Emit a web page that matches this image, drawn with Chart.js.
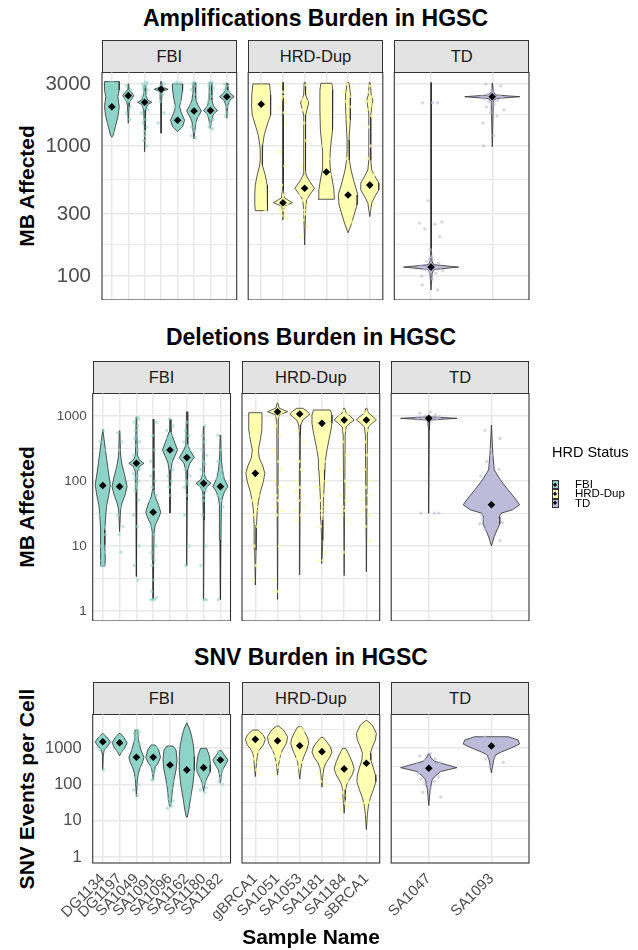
<!DOCTYPE html>
<html><head><meta charset="utf-8">
<script src="https://cdn.jsdelivr.net/npm/chart.js@4.4.1/dist/chart.umd.min.js"></script>
<style>
html,body{margin:0;padding:0;background:#fff;}
body{width:638px;height:950px;position:relative;overflow:hidden;font-family:"Liberation Sans",Arial,sans-serif;}
canvas{position:absolute;left:0;}
.t{position:absolute;white-space:nowrap;line-height:1;}
.title{font-weight:bold;font-size:23px;color:#000;transform:translate(-50%,-50%);}
.ytitle{font-weight:bold;font-size:21px;color:#000;transform:translate(-50%,-50%) rotate(-90deg);}
.strip{position:absolute;box-sizing:border-box;border:1px solid #333;background:#E3E3E3;font-size:16.5px;color:#1a1a1a;display:flex;align-items:center;justify-content:center;}
.key{position:absolute;box-sizing:border-box;border:1px solid #333;width:6.5px;height:9.4px;}
.key i{position:absolute;left:50%;top:50%;width:3.2px;height:3.2px;background:#000;transform:translate(-50%,-50%) rotate(45deg);}
</style></head><body>
<script>
// ---------------- DATA ----------------
const groups = ['FBI', 'HRD-Dup', 'TD'];
const fbiSamples = ['DG1134','DG1197','SA1049','SA1091','SA1096','SA1162','SA1180','SA1182'];
const hrdSamples = ['gBRCA1','SA1051','SA1053','SA1181','SA1184','sBRCA1'];
const tdSamples = ['SA1047','SA1093'];

// y axis ticks (major labelled, minor grid only) and limits
const ampTicks = [100, 300, 1000, 3000];
const ampMinor = [173, 548, 1732];
const ampRange = [65.3, 3707];
const delTicks = [1, 10, 100, 1000];
const delMinor = [3.16, 31.6, 316];
const delRange = [0.70, 2260];
const snvTicks = [1, 10, 100, 1000];
const snvMinor = [3.16, 31.6, 316, 3162];
const snvRange = [0.684, 8630];

// violin outlines: [value, relative density 0..1]
const ampFbiViolins = [
 [[3126,1.0],[2698,1.0],[2393,0.82],[2005,1.0],[1679,0.82],[1406,0.48],[1216,0.2],[1167,0]],
 [[3000,0.04],[2698,0.14],[2541,0.54],[2438,0.75],[2328,0.54],[2193,0.2],[2005,0.11],[1496,0]],
 [[2944,0.07],[2466,0.14],[2259,0.41],[2168,0.95],[2084,0.41],[1892,0.14],[1327,0.07],[904,0]],
 [[3126,0.07],[2844,0.14],[2729,0.95],[2624,0.14],[2259,0.07],[1254,0]],
 [[3000,0.68],[2698,0.68],[2259,0.48],[2005,0.27],[1786,0.54],[1578,0.95],[1406,0.68],[1288,0]],
 [[3069,0.14],[2466,0.2],[2259,0.27],[2065,0.54],[1858,1.0],[1671,0.54],[1531,0.27],[1132,0]],
 [[3069,0.14],[2259,0.2],[2032,0.41],[1871,0.95],[1762,0.41],[1585,0.2],[1368,0]],
 [[3034,0.07],[2698,0.14],[2559,0.41],[2393,1.0],[2259,0.41],[2065,0.14],[1633,0]]
];
const ampHrdViolins = [
 [[3000,0.85],[2466,0.97],[2104,1.0],[1730,0.92],[1452,0.61],[1216,0.31],[1019,0.15],[931,0.1],[780,0.1],[714,0.15],[598,0.41],[501,0.61],[420,0.66],[352,0.66],[318,0.61]],
 [[3069,0.05],[459,0.05],[398,0.15],[366,0.97],[345,0.15],[310,0.05],[270,0]],
 [[3069,0.05],[2466,0.1],[2259,0.31],[2143,0.41],[1995,0.31],[1730,0.1],[931,0.08],[653,0.1],[598,0.15],[547,0.41],[473,1.0],[420,0.51],[385,0.2],[322,0.1],[173,0]],
 [[3034,0.56],[2698,0.66],[1892,0.66],[1327,0.61],[1112,0.51],[931,0.41],[780,0.36],[653,0.41],[547,0.61],[459,0.77],[389,0.82]],
 [[3069,0.1],[2466,0.26],[2065,0.26],[1585,0.2],[1112,0.1],[931,0.1],[780,0.15],[653,0.31],[547,0.56],[420,1.0],[352,0.92],[294,0.61],[247,0.31],[215,0]],
 [[3069,0.05],[2466,0.15],[2259,0.31],[1995,0.2],[1730,0.1],[780,0.1],[653,0.2],[588,0.51],[519,0.92],[459,0.92],[406,0.51],[365,0.2],[322,0.1],[286,0]]
];
const ampTdViolins = [
 [[3069,0.01],[158,0.01],[128,0.04],[122,0.11],[117,1.0],[112,0.11],[105,0.04],[78,0]],
 [[3034,0.01],[2600,0.04],[2466,0.15],[2393,1.0],[2317,0.15],[2218,0.04],[988,0]]
];
const ampFbiMeans = [2005, 2438, 2168, 2729, 1578, 1858, 1871, 2393];
const ampHrdMeans = [2094, 366, 473, 631, 420, 500];
const ampTdMeans = [117, 2393];

const ampFbiPoints = [
 [3100,3050,3000,2950,2900,2800,2700,2600,2500,2300,2100,1900,1700,1500,1300],
 [2900,2700,2600,2500,2450,2400,2300,2200,2000,1800,1600],
 [3100,3050,3000,2950,2900,2850,2800,2700,2600,2500,2400,2300,2200,2100,2000,1900,1800,1600,1500,1400,1300,1200,1100,1000],
 [3000,2900,2800,2750,2700,2650,2500,2200,1800,1500],
 [3100,3050,3000,2950,2900,2800,2700,2600,2400,2200,2000,1800,1700,1600,1550,1500,1450,1400],
 [3100,3000,2900,2700,2500,2300,2100,2000,1900,1850,1800,1700,1600,1500,1400,1300,1200,1150],
 [3100,3050,3000,2900,2800,2600,2400,2200,2100,2000,1950,1900,1850,1800,1750,1700,1600,1500,1450,1400,1350],
 [3000,2900,2700,2600,2500,2450,2400,2350,2300,2200,2000,1800,1700]
];
const ampHrdPoints = [
 [2900,2700,2500,2300,2100,2000,1900,1800,1600,1400,1200,600,500,480,450,430,420,400,380,360,340,320],
 [2950,2800,2600,2400,2300,2200,2000,1800,1500,900,700,500,420,380,360,350,340,330,320,310,300,290,280],
 [2950,2600,2300,2200,2100,2000,1900,1800,1500,1100,700,550,500,480,460,440,420,400,380,350,320,300,270,240,200],
 [2900,2500,2000,1500,1200,1000,800,700,600,500,450,420],
 [3000,2800,2600,2400,2200,2000,1800,1600,800,550,500,470,450,420,400,370,340,300,260],
 [2900,2600,2400,2200,2100,2000,1900,1700,1400,1000,800,600,550,520,500,480,450,420,400,360]
];
const ampTdPoints = [
 [2150,2150,2150,380,260,255,250,230,200,160,140,130,125,120,118,117,116,115,114,113,112,110,108,105,100,95,85,78],
 [3000,2900,2700,2600,2500,2450,2400,2380,2350,2300,2250,2200,2100,2000,1900,1800,1700,1500,1200,1000]
];

const delFbiViolins = [
 [[624,0],[358,0.27],[210,0.53],[124,0.8],[87,1.0],[61,0.8],[43,0.53],[30,0.4],[17.6,0.27],[10.4,0.27],[6.1,0.33],[4.9,0.27]],
 [[594,0.04],[251,0.13],[176,0.33],[124,0.67],[82,1.0],[61,0.73],[46,0.33],[36,0.13],[16.6,0]],
 [[973,0.04],[251,0.13],[210,0.4],[187,1.0],[167,0.4],[137,0.13],[73,0.07],[3.4,0]],
 [[889,0.04],[73,0.1],[57,0.27],[44,0.67],[33,1.0],[26,0.67],[21,0.27],[16.4,0.13],[6.1,0.07],[1.5,0]],
 [[889,0.04],[568,0.13],[459,0.4],[300,1.0],[226,0.53],[189,0.27],[148,0.13],[32,0]],
 [[1164,0.04],[358,0.13],[300,0.4],[229,1.0],[189,0.4],[148,0.13],[51,0.07],[4.9,0]],
 [[701,0.04],[124,0.13],[104,0.4],[92,1.0],[81,0.4],[68,0.13],[25,0.07],[1.5,0]],
 [[511,0.04],[210,0.13],[148,0.27],[111,0.47],[82,1.0],[68,0.53],[55,0.27],[43,0.13],[12.4,0.07],[1.5,0]]
];
const delHrdViolins = [
 [[1124,0.65],[867,0.67],[609,0.65],[428,0.5],[300,0.3],[226,0.4],[170,0.75],[131,0.95],[97,0.8],[68,0.5],[48,0.3],[36,0.2],[21,0.12],[8.7,0.07],[2.5,0]],
 [[1567,0.05],[1327,0.15],[1164,1.0],[1035,0.15],[867,0.08],[1.5,0]],
 [[1313,0.3],[1194,0.7],[1074,1.0],[966,0.7],[867,0.3],[728,0.1],[511,0.07],[3.6,0]],
 [[1236,0.85],[1035,1.0],[780,1.0],[609,0.9],[428,0.7],[300,0.5],[210,0.35],[148,0.3],[104,0.25],[51,0.15],[25,0.1],[12.4,0.08],[5.4,0]],
 [[1313,0.05],[1112,0.2],[1000,0.6],[867,1.0],[780,0.6],[678,0.2],[511,0.1],[3.5,0]],
 [[1313,0.05],[1112,0.2],[1000,0.6],[867,1.0],[780,0.6],[678,0.2],[511,0.1],[4.0,0]]
];
const delTdViolins = [
 [[973,0.04],[921,1.0],[867,0.04],[609,0.02],[32,0]],
 [[728,0],[267,0.05],[148,0.1],[104,0.32],[73,0.59],[54,0.84],[43,1.0],[36,0.75],[32,0.35],[28,0.28],[22,0.3],[17.6,0.2],[13.9,0.1],[10,0]]
];
const delFbiMeans = [85, 82, 187, 33, 300, 229, 92, 82];
const delHrdMeans = [131, 1164, 1074, 771, 867, 867];
const delTdMeans = [921, 43];

const delFbiPoints = [
 [600,400,300,200,150,120,100,90,80,70,60,50,40,30,20,15,10,8,6,5,5],
 [550,400,300,200,150,120,100,90,80,70,60,50,40,30,20,15,8],
 [950,900,800,700,600,500,450,400,350,300,250,220,200,180,160,150,130,120,110,100,90,80,70,50,30,20,10,5,3],
 [800,500,300,200,150,120,100,80,60,50,45,40,35,32,30,28,25,20,15,10,8,6,5,3,2,1.6,1.5,1.5,1.5],
 [900,700,600,500,450,400,350,320,300,280,250,200,150,120,100,80,60],
 [800,600,500,400,350,300,250,220,200,180,150,120,100,90,80,60,30,10,5],
 [700,500,400,300,250,200,180,150,130,120,100,95,90,85,80,75,70,60,50,30,10,5,1.5,1.5],
 [500,300,200,150,130,120,110,100,95,90,85,80,75,70,60,50,40,1.5]
];
const delHrdPoints = [
 [1000,900,800,700,600,500,300,200,150,120,100,80,60,50,40,35,30,20,10,5,3],
 [1200,1100,1050,1000,700,500,300,200,150,100,80,60,50,40,35,30,10,3,2,2],
 [1150,1100,1050,1000,950,900,600,400,200,150,100,80,70,60,50,40,35,30,25],
 [1000,900,800,600,400,300,200,150,100,80,60,50,40,35,30,20,8,6,6],
 [1200,1100,1000,950,900,850,800,600,400,250,150,100,80,60,50,40,35,30,25,8],
 [1150,1100,1000,950,900,850,800,600,400,250,150,100,80,60,50,40,35,30,20,12]
];
const delTdPoints = [
 [1150,1100,1050,1000,980,960,950,940,930,920,910,900,890,880,870,32,32,32],
 [600,450,300,250,200,150,120,100,90,80,70,60,55,50,45,40,35,30,28,26,25,24,23,22,20,18,12]
];

const snvFbiViolins = [
 [[2529,0],[2000,0.53],[1489,1.0],[1135,0.67],[881,0.2],[643,0.07],[249,0]],
 [[2529,0.07],[2000,0.53],[1396,1.0],[1000,0.67],[776,0.27],[643,0.07],[617,0]],
 [[3112,0.2],[1656,0.27],[881,0.6],[555,1.0],[388,0.8],[301,0.53],[203,0.27],[133,0.13],[46,0]],
 [[1208,0.27],[881,0.73],[555,0.97],[388,0.67],[301,0.27],[220,0.13],[133,0]],
 [[1135,0.4],[881,0.8],[469,0.93],[249,0.8],[133,0.53],[71,0.33],[38,0.2],[25,0.07]],
 [[4932,0],[3532,0.33],[2270,0.6],[1208,0.87],[578,1.0],[249,1.0],[97,0.8],[38,0.47],[20,0.27],[12.6,0.07]],
 [[977,0.4],[643,0.73],[342,0.93],[220,0.87],[151,0.47],[110,0.2],[64,0]],
 [[845,0.13],[643,0.53],[469,1.0],[342,0.67],[249,0.27],[182,0.13],[108,0]]
];
const snvHrdViolins = [
 [[3112,0.3],[2270,0.8],[1730,1.0],[1208,0.8],[881,0.4],[643,0.2],[342,0.1],[164,0]],
 [[4009,0.1],[3112,0.6],[2042,1.0],[1371,0.9],[881,0.5],[643,0.3],[469,0.2],[342,0.1],[182,0]],
 [[3837,0.2],[2742,0.5],[1879,0.8],[1343,0.9],[881,0.7],[566,0.4],[388,0.2],[249,0.1],[139,0]],
 [[1963,0.1],[1459,0.5],[1064,0.85],[776,1.0],[566,0.8],[388,0.4],[283,0.2],[182,0.1],[84,0]],
 [[982,0.15],[643,0.5],[413,0.8],[266,1.0],[182,0.8],[133,0.5],[97,0.25],[71,0.15],[38,0.1],[16,0]],
 [[5598,0.1],[4266,0.6],[2529,1.0],[1656,0.9],[1064,0.6],[716,0.4],[469,0.45],[283,0.7],[182,0.9],[119,0.95],[71,0.7],[43,0.4],[25,0.2],[14.6,0.1],[5.7,0]]
];
const snvTdViolins = [
 [[685,0.02],[532,0.08],[430,0.2],[380,0.45],[288,1.0],[224,0.41],[160,0.2],[133,0.12],[71,0.05],[26,0]],
 [[2042,0.6],[1656,0.95],[1288,1.0],[1000,0.7],[776,0.35],[643,0.15],[469,0.08],[342,0.05],[207,0]]
];
const snvFbiMeans = [1489, 1396, 555, 555, 342, 250, 288, 469];
const snvHrdMeans = [1730, 1585, 1159, 794, 266, 380];
const snvTdMeans = [278, 1135];

const snvFbiPoints = [
 [2200,2000,1800,1700,1600,1500,1450,1400,1350,1300,1200,1100,1000,900,250],
 [2000,1800,1600,1500,1400,1300,1200,1100,1000,900,800],
 [3000,2800,2500,2200,2000,1800,1500,1300,1100,1000,900,800,700,600,550,500,450,400,350,300,250,200,150,100,70,50],
 [1000,900,800,700,650,600,550,500,450,400,350,300,250,200,150,130],
 [1000,900,800,700,600,500,400,350,300,250,200,150,120,100,80,60,50,40,35,30,25,22],
 [1000,500,300,200,100,50],
 [800,700,600,500,400,350,300,250,200,150,120,100,80,70,60],
 [800,700,600,550,500,450,400,350,300,250,200,150,120,100]
];
const snvHrdPoints = [
 [2500,2200,2000,1800,1500,1200,1000,900,800,700,600,500,400,300,250,200],
 [2500,2000,1800,1500,1300,1000,900,800,700,600,500,400,300,200],
 [3500,3000,2500,2000,1800,1500,1200,1000,900,800,700,600,500,400,300],
 [1200,1000,800,600,400,200,150,120,100],
 [800,500,300,200,150,120,100,80,60,50,40,30,25,20],
 [80,50,32,30]
];
const snvTdPoints = [
 [700,600,500,450,400,350,330,300,280,260,250,240,220,200,180,160,140,120,100,80,60,45],
 [2000,1800,1600,1500,1400,1300,1200,1100,1000,900,800,700,600,500,400,300]
];

// ---------------- BUILD ----------------
const samples = [fbiSamples, hrdSamples, tdSamples];
const rows = [
  {title:'Amplifications Burden in HGSC', ytitle:'MB Affected', range:ampRange, major:ampTicks, minor:ampMinor,
   violins:[ampFbiViolins, ampHrdViolins, ampTdViolins], means:[ampFbiMeans, ampHrdMeans, ampTdMeans], points:[ampFbiPoints, ampHrdPoints, ampTdPoints]},
  {title:'Deletions Burden in HGSC', ytitle:'MB Affected', range:delRange, major:delTicks, minor:delMinor,
   violins:[delFbiViolins, delHrdViolins, delTdViolins], means:[delFbiMeans, delHrdMeans, delTdMeans], points:[delFbiPoints, delHrdPoints, delTdPoints]},
  {title:'SNV Burden in HGSC', ytitle:'SNV Events per Cell', range:snvRange, major:snvTicks, minor:snvMinor,
   violins:[snvFbiViolins, snvHrdViolins, snvTdViolins], means:[snvFbiMeans, snvHrdMeans, snvTdMeans], points:[snvFbiPoints, snvHrdPoints, snvTdPoints]}
];
const layout = [
  {top:72, bottom:300, panels:[[102,236.7],[248.2,382.8],[394.3,529]], tickSize:20.5, tickPad:11, titleX:315.5, titleY:18},
  {top:393, bottom:621, panels:[[92.7,230.5],[242,379.7],[391.2,529]], tickSize:13.5, tickPad:6, titleX:311, titleY:337},
  {top:714, bottom:863, panels:[[92.7,230.5],[242,379.7],[391.2,529]], tickSize:16.5, tickPad:11, titleX:311, titleY:657}
];
const FILL = {'FBI':'#8DD3C7','HRD-Dup':'#FFFFB3','TD':'#BEBADA'};
const PFILL = {'FBI':'rgba(141,211,199,0.6)','HRD-Dup':'rgba(255,255,160,0.75)','TD':'rgba(190,186,218,0.6)'};
const JIT = [0.12,-0.71,0.53,-0.24,0.88,-0.93,0.31,-0.52,0.69,-0.08,0.02,-0.37,0.61,-0.84,0.27,0.79,-0.62,0.44,-0.29,0.16,-0.47,0.95,-0.15,0.38,-0.76];
const XLAB_H = 80;
Chart.defaults.font.family = '"Liberation Sans", Arial, sans-serif';

const borderPlugin = {id:'pborder', afterDatasetsDraw(chart){
  const a = chart.chartArea, ctx = chart.ctx;
  ctx.save(); ctx.strokeStyle = '#333'; ctx.lineWidth = 1.1;
  ctx.strokeRect(a.left, a.top, a.right - a.left, a.bottom - a.top); ctx.restore();
}};

function addText(cls, txt, x, y, extra) {
  const d = document.createElement('div');
  d.className = 't ' + cls; d.textContent = txt;
  d.style.left = x + 'px'; d.style.top = y + 'px';
  if (extra) Object.assign(d.style, extra);
  document.body.appendChild(d);
  return d;
}

rows.forEach((row, r) => {
  const L = layout[r];
  const isBottom = r === 2;
  const majorSet = new Set(row.major);
  addText('title', row.title, L.titleX, L.titleY);
  addText('ytitle', row.ytitle, 26, (L.top + L.bottom) / 2);
  groups.forEach((g, gi) => {
    const [x0, x1] = L.panels[gi];
    const cats = samples[gi];
    const s = document.createElement('div');
    s.className = 'strip'; s.textContent = g;
    Object.assign(s.style, {left: x0 + 'px', top: (L.top - 32) + 'px', width: (x1 - x0) + 'px', height: '33px'});
    document.body.appendChild(s);

    const H = L.bottom - L.top + (isBottom ? XLAB_H : 0);
    const cv = document.createElement('canvas');
    cv.width = 638; cv.height = H;
    Object.assign(cv.style, {top: L.top + 'px', width: '638px', height: H + 'px'});
    document.body.appendChild(cv);

    const datasets = [];
    cats.forEach((c, i) => {
      const prof = row.violins[gi][i];
      const pts = [];
      prof.forEach(([v, w]) => pts.push({x: i + w * 0.45, y: v}));
      for (let k = prof.length - 1; k >= 0; k--) pts.push({x: i - prof[k][1] * 0.45, y: prof[k][0]});
      pts.push({x: pts[0].x, y: pts[0].y});
      datasets.push({data: pts, showLine: true, fill: 'shape', backgroundColor: FILL[g], borderColor: '#2e2e2e',
        borderWidth: 0.8, pointRadius: 0, tension: 0, order: 3});
    });
    const jp = [];
    cats.forEach((c, i) => row.points[gi][i].forEach((v, k) => jp.push({x: i + JIT[(k + i * 7) % JIT.length] * 0.2, y: v})));
    datasets.push({data: jp, pointRadius: 1.7, backgroundColor: PFILL[g], pointBackgroundColor: PFILL[g], pointBorderWidth: 0, borderWidth: 0, order: 2});
    datasets.push({data: row.means[gi].map((v, i) => ({x: i, y: v})), pointStyle: 'rectRot', pointRadius: 3.8,
      pointBackgroundColor: '#000', backgroundColor: '#000', pointBorderWidth: 0, borderWidth: 0, order: 1});

    const first = gi === 0;
    new Chart(cv, {
      type: 'scatter',
      data: {datasets},
      plugins: [borderPlugin],
      options: {
        responsive: false, animation: false, events: [], devicePixelRatio: 1,
        layout: {autoPadding: false, padding: {left: first ? 0 : x0, right: 638 - x1, top: 0, bottom: 0}},
        plugins: {legend: {display: false}, tooltip: {enabled: false}},
        scales: {
          x: {
            type: 'linear', min: -0.6, max: cats.length - 0.4,
            afterBuildTicks: ax => { ax.ticks = cats.map((c, i) => ({value: i})); },
            afterFit: ax => { ax.height = isBottom ? XLAB_H : 0; ax.paddingLeft = 0; ax.paddingRight = 0; },
            grid: {color: '#E8E8E8', lineWidth: 1.5, drawTicks: false},
            border: {display: false},
            ticks: {display: isBottom, autoSkip: false, minRotation: 45, maxRotation: 45, padding: 7,
              font: {size: 15}, color: '#4D4D4D', callback: v => cats[v]}
          },
          y: {
            type: 'logarithmic', min: row.range[0], max: row.range[1], bounds: 'data',
            afterBuildTicks: ax => { ax.ticks = row.major.concat(row.minor).sort((a, b) => a - b).map(v => ({value: v})); },
            afterFit: ax => { ax.width = first ? x0 : 0; ax.paddingTop = 0; ax.paddingBottom = 0; },
            grid: {color: '#E8E8E8', lineWidth: c => (c.tick && majorSet.has(c.tick.value)) ? 1.5 : 1.1, drawTicks: false},
            border: {display: false},
            ticks: {display: first, padding: L.tickPad, font: {size: L.tickSize}, color: '#4D4D4D',
              callback: v => majorSet.has(v) ? String(v) : ''}
          }
        }
      }
    });
  });
});

addText('title', 'Sample Name', 311, 936, {fontSize: '21px'});

// legend
addText('', 'HRD Status', 552, 445, {fontSize: '14.5px', color: '#000'});
groups.forEach((g, i) => {
  const k = document.createElement('div');
  k.className = 'key';
  Object.assign(k.style, {left: '552px', top: (480 + i * 9.4) + 'px', background: FILL[g]});
  k.appendChild(document.createElement('i'));
  document.body.appendChild(k);
  addText('', g, 575, 484.9 + i * 9.4, {fontSize: '11.5px', color: '#000', transform: 'translateY(-50%)'});
});
</script>
</body></html>
